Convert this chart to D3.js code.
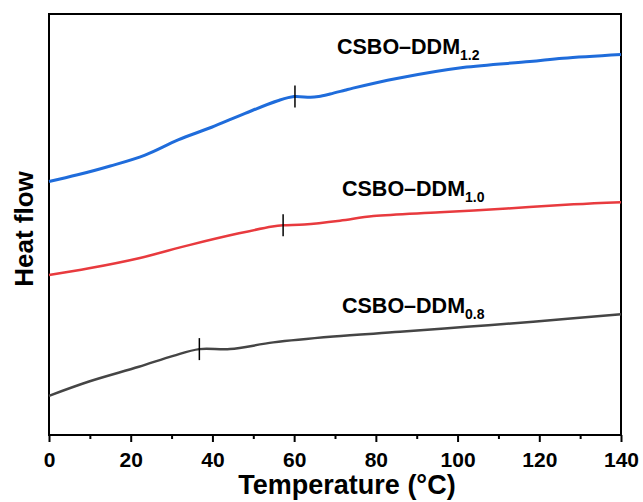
<!DOCTYPE html>
<html>
<head>
<meta charset="utf-8">
<script src="https://cdn.jsdelivr.net/npm/d3@7"></script>
<style>
  body { margin: 0; background: #fff; }
  text { font-family: Arial, "Liberation Sans", sans-serif; font-weight: bold; }
</style>
</head>
<body>
<div id="chart"></div>
<script>
// temperature (°C) and heat flow (a.u.)
let temp12 = [0, 7, 15, 23.5, 31.6, 39.8, 48, 56, 60, 64, 66, 68.8, 72.4, 74.4, 85.1, 101.3, 117.7, 125.8, 140];
let flow12 = [60.2, 61.8, 63.9, 66.5, 70.1, 73.1, 76.4, 79.4, 80.4, 80.2, 80.4, 81.0, 81.9, 82.4, 84.7, 87.3, 88.7, 89.5, 90.4];

let temp10 = [0, 9.8, 22, 34.3, 46.5, 54.7, 57.3, 62.5, 71.2, 79.4, 95.7, 112.1, 128.4, 140];
let flow10 = [38.0, 39.6, 42.0, 45.1, 47.9, 49.5, 49.8, 50.0, 50.9, 52.0, 52.9, 53.8, 54.8, 55.3];

let temp08 = [0, 9.8, 22, 30.4, 36.8, 44.3, 54.9, 69.6, 85.9, 102.2, 118.5, 140];
let flow08 = [9.3, 12.7, 16.2, 18.8, 20.4, 20.4, 22.0, 23.4, 24.5, 25.7, 26.9, 28.7];

// glass transition marks
let tgTemps = [60.2, 57.3, 36.8];
let seriesNames = ["1.2", "1.0", "0.8"];
let xTicks = [0, 20, 40, 60, 80, 100, 120, 140];
let xMinorTicks = [10, 30, 50, 70, 90, 110, 130];

let svg = d3.select("#chart").append("svg")
    .attr("width", 643)
    .attr("height", 502),
  margin = { left: 49, top: 14 },
  width = 572,
  height = 421;

let xScale = d3.scaleLinear().domain([0, 140]).range([0, width]),
  yScale = d3.scaleLinear().domain([0, 100]).range([height, 0]);

let g = svg.append("g").attr("transform", "translate(" + margin.left + "," + margin.top + ")");

// minor ticks first, then major ticks with labels
g.append("g")
  .attr("transform", "translate(0," + height + ")")
  .call(d3.axisBottom(xScale).tickValues(xMinorTicks).tickSize(4).tickFormat(""))
  .call((a) => a.select(".domain").remove())
  .selectAll("line").attr("stroke", "#000").attr("stroke-width", 2);

let xAxis = g.append("g")
  .attr("transform", "translate(0," + height + ")")
  .call(d3.axisBottom(xScale).tickValues(xTicks).tickSize(7).tickPadding(10).tickFormat(d3.format("d")));
xAxis.select(".domain").remove();
xAxis.selectAll("line").attr("stroke", "#000").attr("stroke-width", 2);
xAxis.selectAll("text")
  .attr("fill", "#000")
  .style("font-size", "21px")
  .style("font-family", "Arial, 'Liberation Sans', sans-serif")
  .style("font-weight", "bold");

// frame
g.append("rect")
  .attr("width", width)
  .attr("height", height)
  .attr("fill", "none")
  .attr("stroke", "#000")
  .attr("stroke-width", 2);

let series = [
  { t: temp12, v: flow12, color: "#1f6cdb", w: 3 },
  { t: temp10, v: flow10, color: "#e83a3e", w: 2.5 },
  { t: temp08, v: flow08, color: "#454545", w: 2.5 }
];

let line = d3.line()
  .x((d) => xScale(d[0]))
  .y((d) => yScale(d[1]))
  .curve(d3.curveCatmullRom.alpha(0.5));

series.forEach((s, i) => {
  let pts = s.t.map((t, j) => [t, s.v[j]]);
  g.append("path")
    .datum(pts)
    .attr("d", line)
    .attr("fill", "none")
    .attr("stroke", s.color)
    .attr("stroke-width", s.w)
    .attr("stroke-linejoin", "round");

  // Tg marker
  let yv = d3.scaleLinear().domain(s.t).range(s.v)(tgTemps[i]);
  g.append("line")
    .attr("x1", xScale(tgTemps[i]))
    .attr("x2", xScale(tgTemps[i]))
    .attr("y1", yScale(yv) - 11)
    .attr("y2", yScale(yv) + 11)
    .attr("stroke", "#000")
    .attr("stroke-width", 1.5);
});

// series labels
let labelPos = [[337, 54], [342, 196], [342, 313]];
seriesNames.forEach((n, i) => {
  let t = svg.append("text")
    .attr("x", labelPos[i][0])
    .attr("y", labelPos[i][1])
    .style("font-size", "21.5px")
    .attr("fill", "#000")
    .text("CSBO–DDM");
  t.append("tspan")
    .attr("dy", 6)
    .style("font-size", "14px")
    .text(n);
});

// axis titles
svg.append("text")
  .attr("x", 347)
  .attr("y", 494)
  .attr("text-anchor", "middle")
  .style("font-size", "27px")
  .attr("fill", "#000")
  .text("Temperature (°C)");

svg.append("text")
  .attr("transform", "translate(33," + 229 + ") rotate(-90)")
  .attr("text-anchor", "middle")
  .style("font-size", "26px")
  .attr("fill", "#000")
  .text("Heat flow");
</script>
</body>
</html>
